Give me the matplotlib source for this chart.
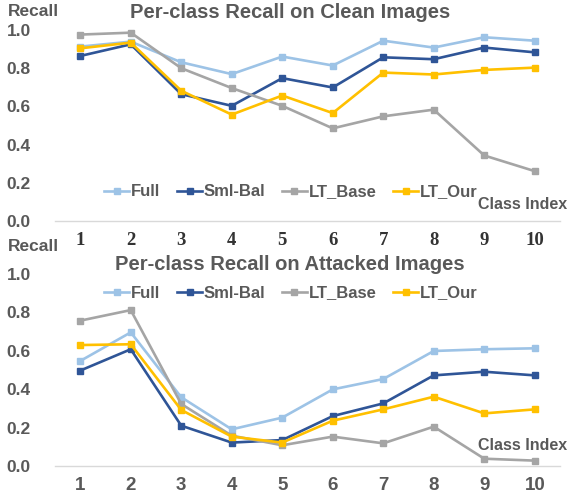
import matplotlib
matplotlib.use("Agg")
import matplotlib.pyplot as plt
import numpy as np

classes = [1, 2, 3, 4, 5, 6, 7, 8, 9, 10]
series = ["Full", "Sml-Bal", "LT_Base", "LT_Our"]
colors = ["#9DC3E6", "#2F5597", "#A5A5A5", "#FFC000"]

# per-class recall, clean images
clean_full = [0.913, 0.939, 0.831, 0.769, 0.861, 0.814, 0.944, 0.908, 0.962, 0.944]
clean_smlbal = [0.864, 0.925, 0.664, 0.603, 0.748, 0.699, 0.857, 0.847, 0.908, 0.883]
clean_ltbase = [0.976, 0.986, 0.800, 0.696, 0.603, 0.485, 0.548, 0.583, 0.343, 0.261]
clean_ltour = [0.904, 0.934, 0.682, 0.557, 0.657, 0.565, 0.777, 0.767, 0.791, 0.803]

# per-class recall, attacked images
att_full = [0.547, 0.696, 0.358, 0.191, 0.252, 0.399, 0.453, 0.599, 0.608, 0.613]
att_smlbal = [0.497, 0.608, 0.210, 0.122, 0.135, 0.260, 0.326, 0.472, 0.491, 0.472]
att_ltbase = [0.757, 0.812, 0.323, 0.158, 0.108, 0.153, 0.118, 0.205, 0.038, 0.028]
att_ltour = [0.630, 0.634, 0.292, 0.153, 0.122, 0.236, 0.295, 0.361, 0.274, 0.295]

yticks = [0.0, 0.2, 0.4, 0.6, 0.8, 1.0]
txt = "#595959"
sans = "Liberation Sans"

W, H = 569, 501
fig = plt.figure(figsize=(W / 100, H / 100), dpi=100)


def panel(ax, data, title, xfont, y_title, y_recall, y_legend, y_class):
    x = np.arange(1, len(classes) + 1)
    handles = []
    for vals, name, c in zip(data, series, colors):
        h, = ax.plot(x, vals, color=c, lw=1.9, marker="s", ms=4.5,
                     label=name, clip_on=False)
        handles.append(h)
    ax.set_xlim(0.5, 10.5)
    ax.set_ylim(0, 1.0)
    for s in ["top", "right", "left"]:
        ax.spines[s].set_visible(False)
    ax.spines["bottom"].set_color("#D9D9D9")
    ax.spines["bottom"].set_linewidth(1.0)
    ax.set_xticks(x)
    ax.set_xticklabels([str(c) for c in classes])
    ax.set_yticks(yticks)
    ax.set_yticklabels(["%.1f" % v for v in yticks])
    ax.tick_params(length=0)
    for lab in ax.get_xticklabels():
        lab.set_fontfamily(xfont)
        lab.set_fontweight("bold")
        lab.set_fontsize(13.5)
        lab.set_color("#333333" if xfont != sans else txt)
    ax.tick_params(axis="x", pad=8)
    for lab in ax.get_yticklabels():
        lab.set_fontfamily(sans)
        lab.set_fontweight("bold")
        lab.set_fontsize(12.5)
        lab.set_color(txt)
        lab.set_horizontalalignment("left")
    ax.tick_params(axis="y", pad=35)
    fig.text(290 / W, 1 - y_title / H, title, ha="center", va="center",
             fontsize=14.5, fontweight="bold", color=txt, family=sans)
    fig.text(8 / W, 1 - y_recall / H, "Recall", ha="left", va="center",
             fontsize=12.5, fontweight="bold", color=txt, family=sans)
    fig.text(567 / W, 1 - y_class / H, "Class Index", ha="right", va="center",
             fontsize=11.5, fontweight="bold", color=txt, family=sans)
    fig.legend(handles=handles, loc="center", ncol=4, frameon=False,
               bbox_to_anchor=(291 / W, 1 - y_legend / H),
               prop={"family": sans, "weight": "bold", "size": 12},
               labelcolor=txt, handlelength=1.5, handletextpad=0.1,
               columnspacing=1.0, borderaxespad=0, borderpad=0)


ax1 = fig.add_axes([55 / W, 1 - 221 / H, 505 / W, 191 / H])
panel(ax1, [clean_full, clean_smlbal, clean_ltbase, clean_ltour],
      "Per-class Recall on Clean Images", "Liberation Serif", 12, 11, 192, 205)

ax2 = fig.add_axes([55 / W, 1 - 466 / H, 505 / W, 192 / H])
panel(ax2, [att_full, att_smlbal, att_ltbase, att_ltour],
      "Per-class Recall on Attacked Images", sans, 264, 247, 293, 445)

fig.savefig("out.png", dpi=100)
